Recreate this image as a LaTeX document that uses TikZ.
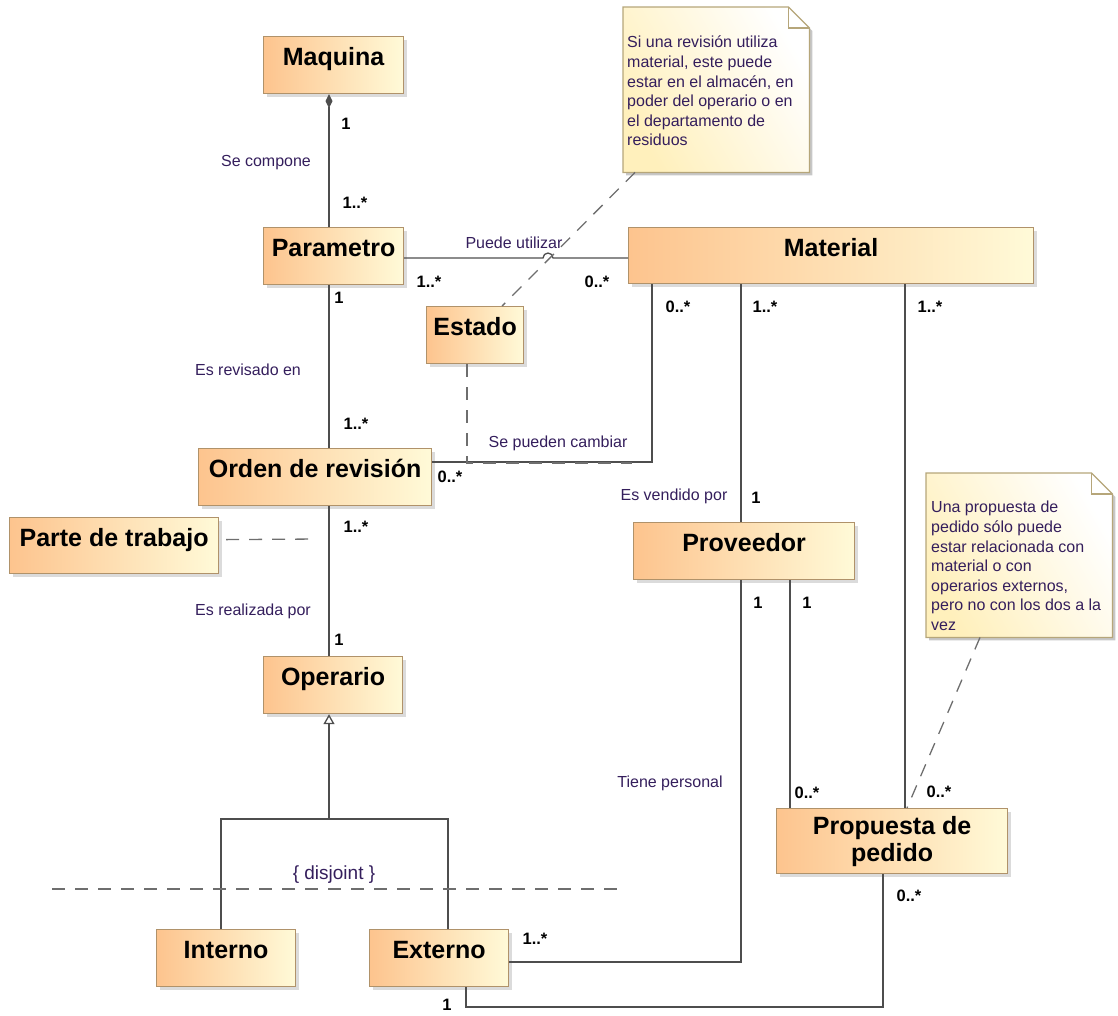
\documentclass[tikz,border=0pt]{standalone}
\usepackage{fontspec}
\setmainfont{Liberation Sans}
\usetikzlibrary{arrows.meta,shadows,calc}

\definecolor{clsleft}{RGB}{253,196,142}
\definecolor{clsright}{RGB}{255,250,216}
\definecolor{clsborder}{RGB}{176,146,106}
\definecolor{noteleft}{RGB}{255,240,188}
\definecolor{noteborder}{RGB}{182,166,122}
\definecolor{wirecol}{RGB}{78,78,78}
\definecolor{dashcol}{RGB}{110,110,110}
\definecolor{lblcol}{RGB}{52,30,92}

\newcommand{\clsfont}{\fontsize{25}{27}\selectfont\bfseries}
\newcommand{\lblfont}{\fontsize{16}{19}\selectfont}
\newcommand{\multfont}{\fontsize{16.5}{19}\selectfont\bfseries}
\newcommand{\notefont}{\fontsize{16}{19.6}\selectfont}

\tikzset{
  clsbase/.style={draw=clsborder, line width=1.2pt, left color=clsleft,
    right color=clsright, anchor=north west, inner xsep=0pt, font=\clsfont,
    drop shadow={shadow xshift=3pt, shadow yshift=-3pt, fill=black!28}},
  cls/.style={clsbase, inner ysep=0pt, text height=29pt, text depth=28pt},
  clstwo/.style={clsbase, inner ysep=0pt, align=center, minimum height=65pt},
  wire/.style={draw=wirecol, line width=1.3pt},
  dashwire/.style={draw=dashcol, line width=1.3pt, dash pattern=on 13pt off 10pt},
  lab/.style={font=\lblfont, text=lblcol, inner sep=0pt},
  mult/.style={font=\multfont, text=black, inner sep=0pt},
  notearea/.style={anchor=north west, inner sep=0pt, draw=none},
  notebody/.style={draw=noteborder, line width=1.2pt, left color=noteleft,
    right color=white, shading angle=120},
  notetext/.style={anchor=north west, inner sep=0pt, align=left,
    font=\notefont, text=lblcol},
}

\begin{document}
\begin{tikzpicture}[x=1pt, y=-1pt]
\useasboundingbox (0,0) rectangle (1118,1015);

% ---------- classes ----------
\node[cls, minimum width=140pt] (maq) at (263,36) {Maquina};
\node[cls, minimum width=140pt] (par) at (263,227) {Parametro};
\node[cls, minimum width=405pt, text depth=27pt] (mat) at (628,227) {Material};
\node[cls, minimum width=97pt] (est) at (426,306) {Estado};
\node[cls, minimum width=233pt] (ord) at (198,448) {Orden de revisión};
\node[cls, minimum width=209pt, text depth=27pt] (pdt) at (9,517) {Parte de trabajo};
\node[cls, minimum width=139pt] (ope) at (263,656) {Operario};
\node[cls, minimum width=221pt] (prov) at (633,522) {Proveedor};
\node[cls, minimum width=139pt] (int) at (156,929) {Interno};
\node[cls, minimum width=139pt] (ext) at (369,929) {Externo};
\node[clstwo, minimum width=231pt] (prop) at (776,808) {Propuesta de\\pedido};

% ---------- notes ----------
\node[notearea, minimum width=186pt, minimum height=165pt] (n1) at (623,7) {};
\fill[black!22] ($(n1.north west)+(3,3)$) -- ($(n1.north east)+(-18,3)$)
  -- ($(n1.north east)+(3,24)$) -- ($(n1.south east)+(3,3)$)
  -- ($(n1.south west)+(3,3)$) -- cycle;
\path[notebody] (n1.north west) -- ($(n1.north east)+(-21,0)$)
  -- ($(n1.north east)+(0,21)$) -- (n1.south east) -- (n1.south west) -- cycle;
\draw[draw=noteborder, line width=1.2pt] ($(n1.north east)+(-21,0)$)
  -- ($(n1.north east)+(-21,21)$) -- ($(n1.north east)+(0,21)$);
\node[notetext] (n1t) at (627,36) {Si una revisión utiliza\\material, este puede\\estar en el almacén, en\\poder del operario o en\\el departamento de\\residuos};

\node[notearea, minimum width=186pt, minimum height=164pt] (n2) at (926,473) {};
\fill[black!22] ($(n2.north west)+(3,3)$) -- ($(n2.north east)+(-18,3)$)
  -- ($(n2.north east)+(3,24)$) -- ($(n2.south east)+(3,3)$)
  -- ($(n2.south west)+(3,3)$) -- cycle;
\path[notebody] (n2.north west) -- ($(n2.north east)+(-21,0)$)
  -- ($(n2.north east)+(0,21)$) -- (n2.south east) -- (n2.south west) -- cycle;
\draw[draw=noteborder, line width=1.2pt] ($(n2.north east)+(-21,0)$)
  -- ($(n2.north east)+(-21,21)$) -- ($(n2.north east)+(0,21)$);
\node[notetext] (n2t) at (931,501) {Una propuesta de\\pedido sólo puede\\estar relacionada con\\material o con\\operarios externos,\\pero no con los dos a la\\vez};

% ---------- guide coordinates ----------
\coordinate (cx) at (329,0);
\coordinate (hy) at (0,258);
\coordinate (ay) at (0,462);
\coordinate (ex) at (467,0);
\coordinate (bx) at (652,0);
\coordinate (vx) at (741,0);
\coordinate (wx) at (790,0);
\coordinate (zx) at (905,0);
\coordinate (qx) at (883,0);
\coordinate (rx) at (466,0);
\coordinate (gy) at (0,819);
\coordinate (ky) at (0,962);
\coordinate (by) at (0,1007);
\coordinate (gl) at (221,819);
\coordinate (gr) at (448,819);
\coordinate (hop) at (543,258);
\coordinate (ecut) at (632,463);
\coordinate (pdtend) at (318,539);

% ---------- associations ----------
\draw[wire, {Diamond[length=14pt, width=7pt]}-] (cx |- maq.south) -- (cx |- par.north);
\draw[wire] (par.east |- hy) -- (hop) arc[start angle=180, end angle=360, radius=5] -- (mat.west |- hy);
\draw[wire] (cx |- par.south) -- (cx |- ord.north);
\draw[wire] (ord.east |- ay) -- (bx |- ay) -- (bx |- mat.south);
\draw[wire] (cx |- ord.south) -- (cx |- ope.north);
\draw[wire] (vx |- mat.south) -- (vx |- prov.north);
\draw[wire] (vx |- prov.south) -- (vx |- ky) -- (ext.east |- ky);
\draw[wire] (wx |- prov.south) -- (wx |- prop.north);
\draw[wire] (zx |- mat.south) -- (zx |- prop.north);
\draw[wire] (qx |- prop.south) -- (qx |- by) -- (rx |- by) -- (rx |- ext.south);

% generalization
\draw[wire, {Triangle[open, length=10pt, width=11pt, fill=white]}-] (cx |- ope.south) -- (cx |- gy);
\draw[wire] (gl |- int.north) -- (gl) -- (gr) -- (gr |- ext.north);
\coordinate (dl) at (52,889);
\coordinate (dr) at (617,889);
\draw[dashwire] (dl) -- (dr);

% association-class and note links
\draw[dashwire] (ex |- est.south) -- (ex |- ecut) -- (ecut);
\draw[dashwire] ($(pdt.east)+(7,-6)$) -- (pdtend);
\draw[dashwire] ($(n1.south west)+(12,0)$) -- ($(est.north)+(27,0)$);
\draw[dashwire] ($(n2.south west)+(54,0)$) -- ($(prop.north west)+(131,0)$);

% ---------- labels ----------
\node[mult] (m1) at (346,124) {1};
\node[lab] (l1) at (266,163) {Se compone};
\node[mult] (m2) at (355,203) {1..*};
\node[lab] (l2) at (514,243) {Puede utilizar};
\node[mult] (m3) at (429,282) {1..*};
\node[mult] (m4) at (597,282) {0..*};
\node[mult] (m5) at (678,307) {0..*};
\node[mult] (m6) at (765,307) {1..*};
\node[mult] (m7) at (930,307) {1..*};
\node[mult] (m8) at (339,298) {1};
\node[lab] (l3) at (248,370) {Es revisado en};
\node[mult] (m9) at (356,424) {1..*};
\node[mult] (m10) at (450,477) {0..*};
\node[lab] (l4) at (558,443) {Se pueden cambiar};
\node[mult] (m11) at (356,527) {1..*};
\node[lab] (l5) at (253,611) {Es realizada por};
\node[mult] (m12) at (339,640) {1};
\node[lab] (l6) at (674,496) {Es vendido por};
\node[mult] (m13) at (756,498) {1};
\node[mult] (m14) at (758,603) {1};
\node[mult] (m15) at (807,603) {1};
\node[lab] (l7) at (670,783) {Tiene personal};
\node[mult] (m16) at (807,793) {0..*};
\node[mult] (m17) at (939,792) {0..*};
\node[mult] (m18) at (909,896) {0..*};
\node[mult] (m19) at (535,939) {1..*};
\node[mult] (m20) at (447,1005) {1};
\node[lab, font=\fontsize{19}{22}\selectfont] (l8) at (334,875) {\{ disjoint \}};

\end{tikzpicture}
\end{document}
